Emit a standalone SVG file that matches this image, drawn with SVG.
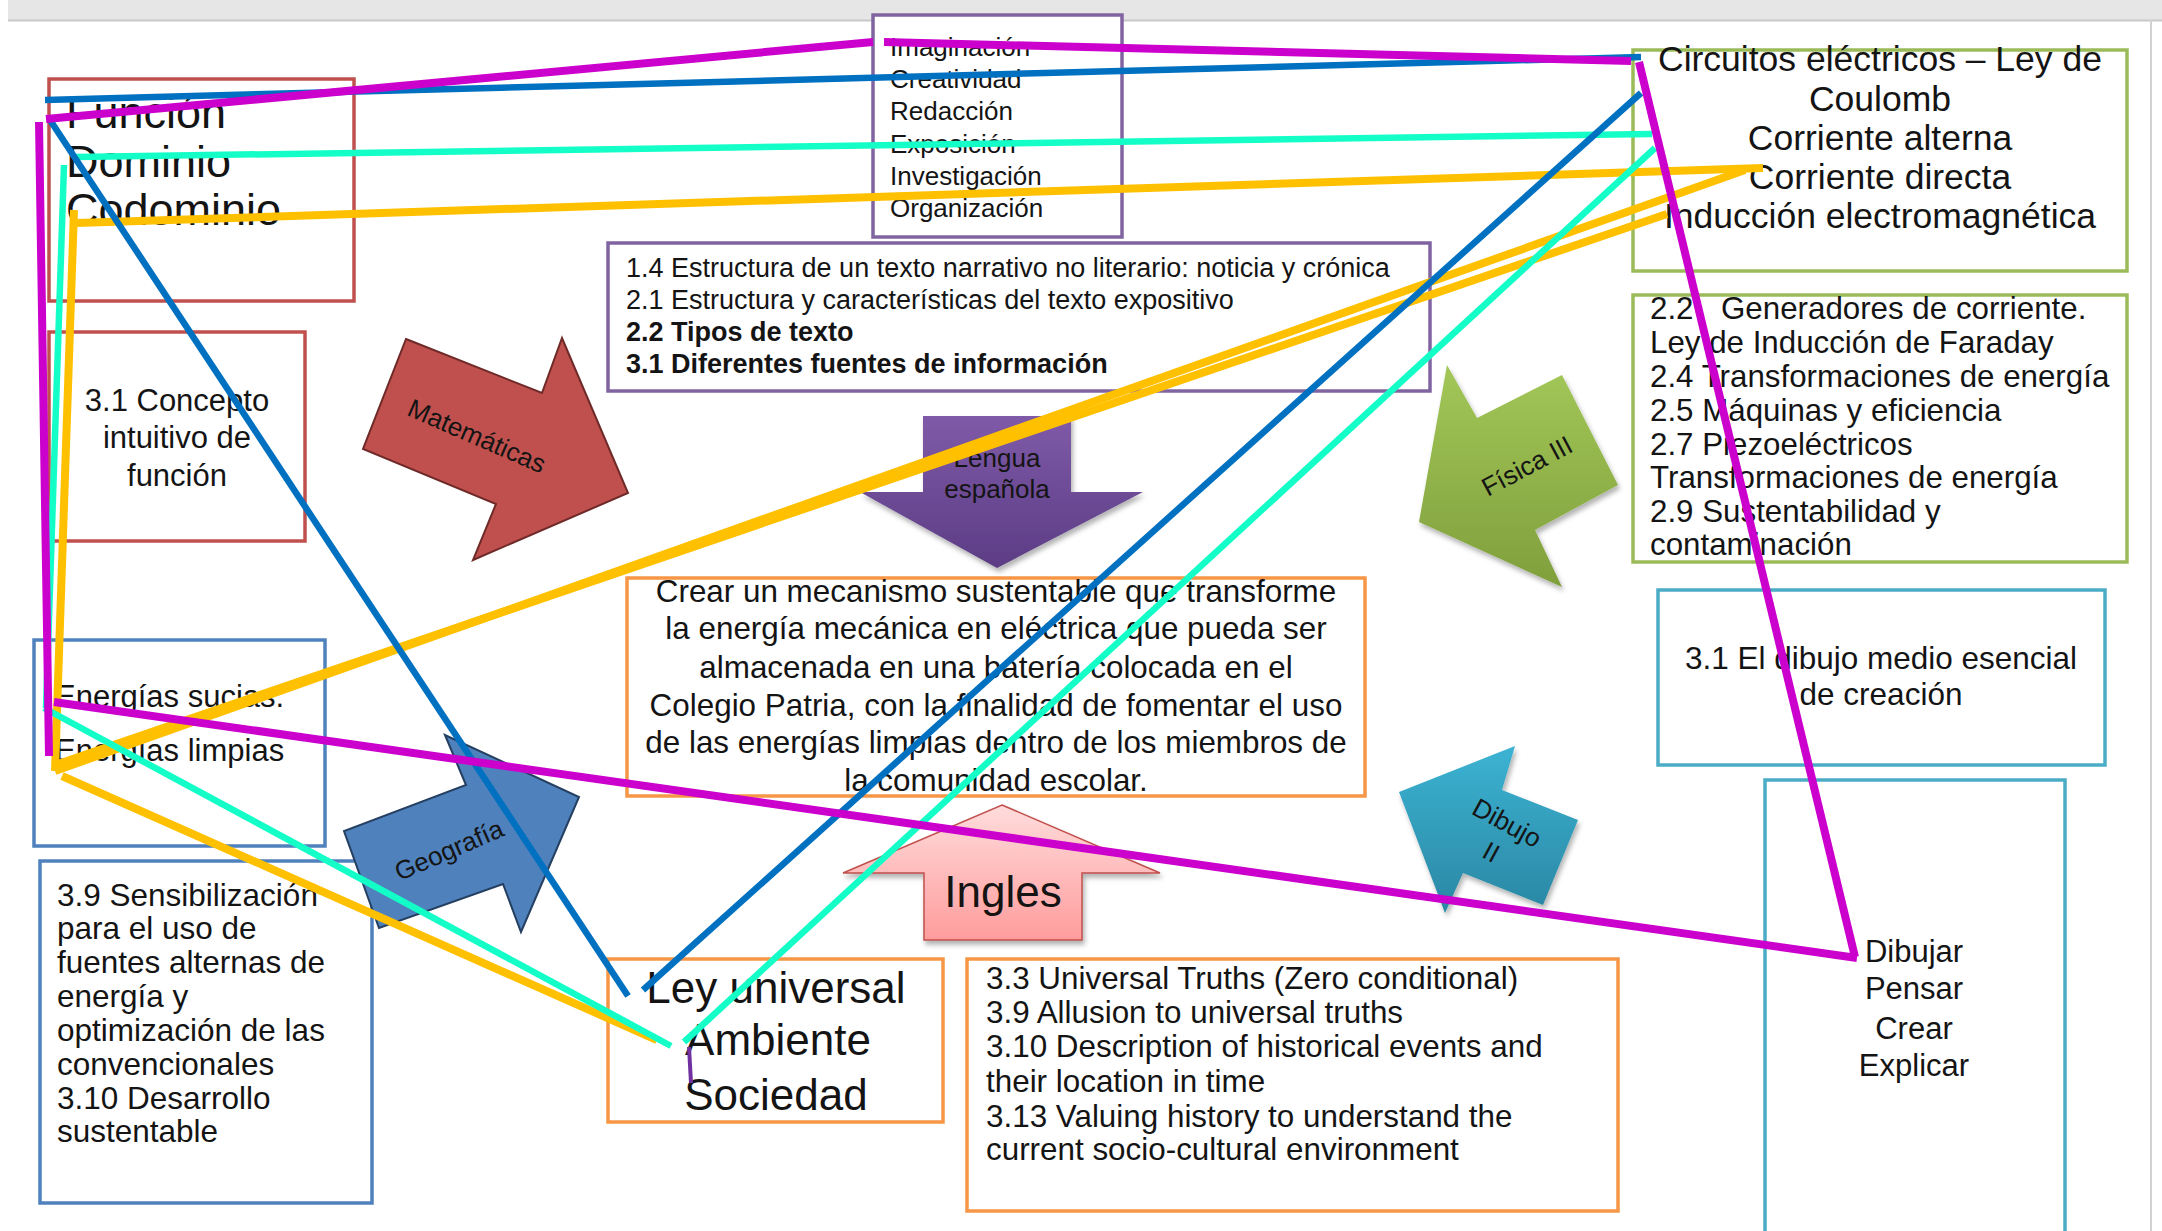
<svg xmlns="http://www.w3.org/2000/svg" width="2162" height="1231" viewBox="0 0 2162 1231">
<style>
text{font-family:"Liberation Sans",Arial,sans-serif;fill:#141414}
.box{fill:#fff;stroke-width:3.5}
.red{stroke:#c0504d}.pur{stroke:#8064a2}.org{stroke:#f79646}.grn{stroke:#9bbb59}.blu{stroke:#4f81bd}.teal{stroke:#4bacc6}
.ln{fill:none;stroke-linecap:butt}
.mag{stroke:#cc00cc;stroke-width:8}
.bl{stroke:#0070c0;stroke-width:6.5}
.cy{stroke:#14ffc8;stroke-width:6.5}
.or{stroke:#ffc000;stroke-width:8}
</style>
<defs>
<linearGradient id="gFis" x1="0" y1="0" x2="0" y2="1"><stop offset="0" stop-color="#a3c758"/><stop offset="1" stop-color="#7f9f3c"/></linearGradient>
<linearGradient id="gLen" x1="0" y1="0" x2="0" y2="1"><stop offset="0" stop-color="#7f5aa8"/><stop offset="1" stop-color="#5c3d84"/></linearGradient>
<linearGradient id="gDib" x1="0" y1="0" x2="0" y2="1"><stop offset="0" stop-color="#3cb3d3"/><stop offset="1" stop-color="#2a87a3"/></linearGradient>
<linearGradient id="gIng" x1="0" y1="0" x2="0" y2="1"><stop offset="0" stop-color="#ffdcdc"/><stop offset="1" stop-color="#ff9c9c"/></linearGradient>
<filter id="sh" x="-20%" y="-20%" width="140%" height="140%"><feDropShadow dx="2" dy="4" stdDeviation="2.5" flood-color="#000" flood-opacity="0.3"/></filter>
</defs>

<g id="frame">
<rect x="8" y="0" width="2154" height="20" fill="#e6e6e6"/>
<line x1="8" y1="20.5" x2="2162" y2="20.5" stroke="#c8c8c8" stroke-width="2"/>
<line x1="2151" y1="20" x2="2151" y2="1231" stroke="#d2d2d2" stroke-width="2"/>
</g>

<g id="funcion">
<rect class="box red" x="49" y="79" width="305" height="222"/>
<text font-size="45"><tspan x="66" y="128">Función</tspan><tspan x="66" y="177">Dominio</tspan><tspan x="66" y="225">Codominio</tspan></text>
</g>

<g id="concepto">
<rect class="box red" x="49" y="332" width="256" height="209"/>
<text font-size="31" text-anchor="middle"><tspan x="177" y="411">3.1 Concepto</tspan><tspan x="177" y="448">intuitivo de</tspan><tspan x="177" y="486">función</tspan></text>
</g>

<g id="imaginacion">
<rect class="box pur" x="873" y="15" width="249" height="222"/>
<text font-size="26"><tspan x="890" y="56">Imaginación</tspan><tspan x="890" y="88">Creatividad</tspan><tspan x="890" y="120">Redacción</tspan><tspan x="890" y="153">Exposición</tspan><tspan x="890" y="185">Investigación</tspan><tspan x="890" y="217">Organización</tspan></text>
</g>

<g id="lengua-temas">
<rect class="box pur" x="608" y="243" width="822" height="148"/>
<text font-size="27"><tspan x="626" y="277">1.4 Estructura de un texto narrativo no literario: noticia y crónica</tspan><tspan x="626" y="309">2.1 Estructura y características del texto expositivo</tspan><tspan x="626" y="341" font-weight="bold">2.2 Tipos de texto</tspan><tspan x="626" y="373" font-weight="bold">3.1 Diferentes fuentes de información</tspan></text>
</g>

<g id="circuitos">
<rect class="box grn" x="1633" y="50" width="494" height="221"/>
<text font-size="35.5" text-anchor="middle"><tspan x="1880" y="71">Circuitos eléctricos – Ley de</tspan><tspan x="1880" y="111">Coulomb</tspan><tspan x="1880" y="150">Corriente alterna</tspan><tspan x="1880" y="189">Corriente directa</tspan><tspan x="1880" y="228">Inducción electromagnética</tspan></text>
</g>

<g id="fisica-temas">
<rect class="box grn" x="1633" y="295" width="494" height="267"/>
<text font-size="31.3"><tspan x="1650" y="319">2.2</tspan><tspan x="1721" y="319">Generadores de corriente.</tspan><tspan x="1650" y="353">Ley de Inducción de Faraday</tspan><tspan x="1650" y="387">2.4 Transformaciones de energía</tspan><tspan x="1650" y="421">2.5 Máquinas y eficiencia</tspan><tspan x="1650" y="455">2.7 Piezoeléctricos</tspan><tspan x="1650" y="488">Transformaciones de energía</tspan><tspan x="1650" y="522">2.9 Sustentabilidad y</tspan><tspan x="1650" y="555">contaminación</tspan></text>
</g>

<g id="objetivo">
<rect class="box org" x="627" y="578" width="738" height="218"/>
<text font-size="31.4" text-anchor="middle"><tspan x="996" y="602">Crear un mecanismo sustentable que transforme</tspan><tspan x="996" y="639">la energía mecánica en eléctrica que pueda ser</tspan><tspan x="996" y="678">almacenada en una batería colocada en el</tspan><tspan x="996" y="716">Colegio Patria, con la finalidad de fomentar el uso</tspan><tspan x="996" y="753">de las energías limpias dentro de los miembros de</tspan><tspan x="996" y="791">la comunidad escolar.</tspan></text>
</g>

<g id="energias">
<rect class="box blu" x="34" y="640" width="291" height="206"/>
<text font-size="31"><tspan x="55" y="707">Energías sucias.</tspan><tspan x="55" y="761">Energías limpias</tspan></text>
</g>

<g id="geografia-temas">
<rect class="box blu" x="40" y="861" width="332" height="342"/>
<text font-size="31.5"><tspan x="57" y="906">3.9 Sensibilización</tspan><tspan x="57" y="939">para el uso de</tspan><tspan x="57" y="973">fuentes alternas de</tspan><tspan x="57" y="1007">energía y</tspan><tspan x="57" y="1041">optimización de las</tspan><tspan x="57" y="1075">convencionales</tspan><tspan x="57" y="1109">3.10 Desarrollo</tspan><tspan x="57" y="1142">sustentable</tspan></text>
</g>

<g id="ley-universal">
<rect class="box org" x="608" y="959" width="335" height="163"/>
<text font-size="44" text-anchor="middle"><tspan x="776" y="1003">Ley universal</tspan><tspan x="778" y="1055">Ambiente</tspan><tspan x="776" y="1110">Sociedad</tspan></text>
</g>

<g id="ingles-temas">
<rect class="box org" x="967" y="959" width="651" height="252"/>
<text font-size="31.4"><tspan x="986" y="989">3.3 Universal Truths (Zero conditional)</tspan><tspan x="986" y="1023">3.9 Allusion to universal truths</tspan><tspan x="986" y="1057">3.10 Description of historical events and</tspan><tspan x="986" y="1092">their location in time</tspan><tspan x="986" y="1127">3.13 Valuing history to understand the</tspan><tspan x="986" y="1160">current socio-cultural environment</tspan></text>
</g>

<g id="dibujo-tema">
<rect class="box teal" x="1658" y="590" width="447" height="175"/>
<text font-size="31.5" text-anchor="middle"><tspan x="1881" y="669">3.1 El dibujo medio esencial</tspan><tspan x="1881" y="705">de creación</tspan></text>
</g>

<g id="dibujar">
<rect class="box teal" x="1765" y="780" width="300" height="470"/>
<text font-size="31" text-anchor="middle"><tspan x="1914" y="962">Dibujar</tspan><tspan x="1914" y="999">Pensar</tspan><tspan x="1914" y="1039">Crear</tspan><tspan x="1914" y="1076">Explicar</tspan></text>
</g>

<g id="arrow-matematicas">
<polygon points="406,339 542,393 562,338 628,493 473,560 496,504 363,449" fill="#c0504d" stroke="#6e2a28" stroke-width="2"/>
<text font-size="26" text-anchor="middle" transform="translate(477,436) rotate(23.5)" y="9">Matemáticas</text>
</g>

<g id="arrow-geografia">
<polygon points="445,735 466,785 344,831 379,928 503,884 521,932 579,797" fill="#4f81bd" stroke="#243f60" stroke-width="2"/>
<text font-size="26" text-anchor="middle" transform="translate(449,850) rotate(-23.5)" y="9">Geografía</text>
</g>

<g id="arrow-lengua">
<polygon points="923,416 1071,416 1071,492 1143,492 997,568 860,492 923,492" fill="url(#gLen)" filter="url(#sh)"/>
<text font-size="26" text-anchor="middle"><tspan x="997" y="467">Lengua</tspan><tspan x="997" y="498">española</tspan></text>
</g>

<g id="arrow-fisica">
<polygon points="1447,365 1477,418 1562,375 1618,485 1535,530 1562,587 1419,522" fill="url(#gFis)" filter="url(#sh)"/>
<text font-size="26" text-anchor="middle" transform="translate(1527,466) rotate(-28)" y="9">Física III</text>
</g>

<g id="arrow-dibujo">
<polygon points="1515,746 1502,790 1578,820 1543,905 1463,873 1445,913 1399,792" fill="url(#gDib)" filter="url(#sh)"/>
<text font-size="26" text-anchor="middle" transform="translate(1507,823) rotate(28.5)"><tspan x="0" y="9">Dibujo</tspan><tspan x="0" y="42">II</tspan></text>
</g>

<g id="arrow-ingles">
<polygon points="1002,805 1160,873 1082,873 1082,940 924,940 924,873 843,873" fill="url(#gIng)" stroke="#c0504d" stroke-width="1.5" filter="url(#sh)"/>
<text font-size="44" text-anchor="middle" x="1003" y="907">Ingles</text>
</g>

<g id="connectors" class="ln">
<line class="ln or" x1="76" y1="223" x2="1763" y2="168"/>
<line class="ln or" x1="74" y1="210" x2="55" y2="771"/>
<line class="ln or" x1="55" y1="771" x2="1745" y2="170"/>
<line class="ln or" x1="58" y1="764" x2="1667" y2="214"/>
<line class="ln or" x1="62" y1="776" x2="657" y2="1040"/>
<line class="ln cy" x1="76" y1="157" x2="1652" y2="134"/>
<line class="ln cy" x1="64" y1="165" x2="46" y2="708"/>
<line class="ln cy" x1="44" y1="708" x2="671" y2="1046"/>
<line class="ln cy" x1="684" y1="1042" x2="1655" y2="148"/>
<line class="ln bl" x1="45" y1="100" x2="1641" y2="57"/>
<line class="ln bl" x1="50" y1="120" x2="628" y2="996"/>
<line class="ln bl" x1="643" y1="990" x2="1641" y2="93"/>
<line class="ln mag" x1="46" y1="119" x2="873" y2="42"/>
<line class="ln mag" x1="884" y1="42" x2="1631" y2="61"/>
<line class="ln mag" x1="1639" y1="62" x2="1855" y2="957"/>
<line class="ln mag" x1="1857" y1="958" x2="54" y2="702"/>
<line class="ln mag" x1="39" y1="122" x2="49" y2="756"/>
<line x1="689" y1="1047" x2="691" y2="1083" stroke="#7030a0" stroke-width="4"/>
</g>
</svg>
